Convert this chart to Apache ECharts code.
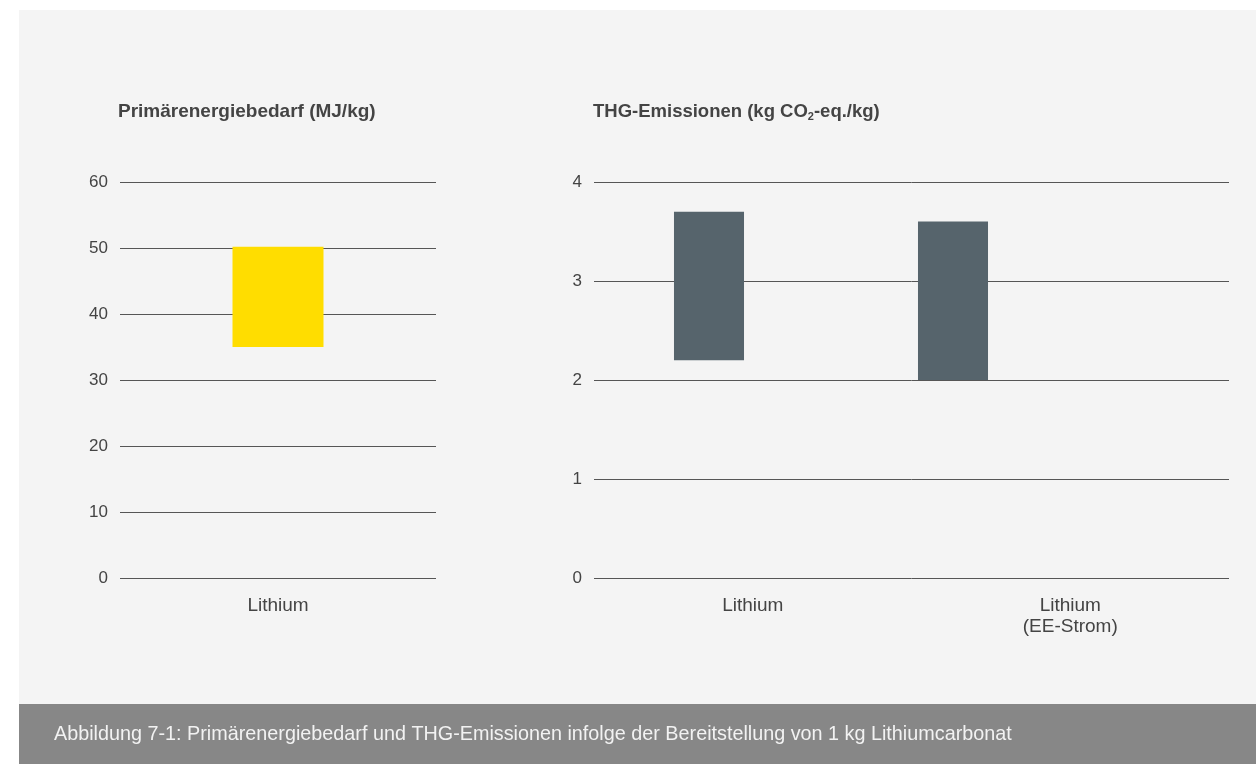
<!DOCTYPE html>
<html>
<head>
<meta charset="utf-8">
<script src="https://cdn.jsdelivr.net/npm/echarts@6/dist/echarts.min.js"></script>
<style>
html,body{margin:0;padding:0;background:#ffffff;}
#c{width:1256px;height:764px;}
</style>
</head>
<body>
<div id="c"></div>
<script>
// ---- data ----
const leftCategories = ['Lithium'];
const leftLow = [35];
const leftHigh = [50.2];
const leftTicks = [0, 10, 20, 30, 40, 50, 60];

const rightCategories = ['Lithium', 'Lithium\n(EE-Strom)'];
const rightLow = [2.2, 2.0];
const rightHigh = [3.7, 3.6];
const rightTicks = [0, 1, 2, 3, 4];

const leftTitle = 'Primärenergiebedarf (MJ/kg)';
const rightTitle = 'THG-Emissionen (kg CO{sub|2}-eq./kg)';
const caption = 'Abbildung 7-1: Primärenergiebedarf und THG-Emissionen infolge der Bereitstellung von 1 kg Lithiumcarbonat';

// ---- chart ----
const FONT = '"Liberation Sans", Arial, sans-serif';
const chart = echarts.init(document.getElementById('c'), null, {renderer: 'canvas'});

function diff(lo, hi) { return hi.map((h, i) => +(h - lo[i]).toFixed(3)); }

const yCommon = (ticks, show) => ({
  type: 'value',
  min: ticks[0],
  max: ticks[ticks.length - 1],
  interval: ticks[1] - ticks[0],
  show: show,
  axisLine: {show: false},
  axisTick: {show: false},
  axisLabel: {show: show, color: '#444', fontSize: 17, fontFamily: FONT, margin: 12},
  splitLine: {show: show, lineStyle: {color: '#555', width: 1}}
});

const xLabel = {color: '#444', fontSize: 19, fontFamily: FONT, margin: 17, lineHeight: 21, interval: 0};

const option = {
  animation: false,
  backgroundColor: '#ffffff',
  graphic: [
    {type: 'rect', z: -10, shape: {x: 19, y: 10, width: 1237, height: 694}, style: {fill: '#f4f4f4'}},
    {type: 'rect', z: -10, shape: {x: 19, y: 704, width: 1237, height: 60}, style: {fill: '#878787'}},
    {type: 'text', left: 54, top: 725, style: {text: caption, fill: '#f2f2f2', fontSize: 19.8, fontFamily: FONT}}
  ],
  title: [
    {text: leftTitle, left: 113, top: 97, textStyle: {color: '#444', fontSize: 19, fontWeight: 'bold', fontFamily: FONT}},
    {text: rightTitle, left: 588, top: 97, textStyle: {color: '#444', fontSize: 18.5, fontWeight: 'bold', fontFamily: FONT,
      rich: {sub: {fontSize: 11, fontWeight: 'bold', color: '#444', fontFamily: FONT, verticalAlign: 'bottom', padding: [9, 0, 0, 0]}}}}
  ],
  grid: [
    {left: 120, width: 316, top: 182, height: 396},
    {left: 594, width: 635, top: 182, height: 396},
    {left: 587, width: 488, top: 182, height: 396}
  ],
  xAxis: [
    {type: 'category', gridIndex: 0, data: leftCategories, axisLine: {show: false}, axisTick: {show: false}, axisLabel: xLabel},
    {type: 'category', gridIndex: 1, data: rightCategories, axisLine: {show: false}, axisTick: {show: false}, axisLabel: xLabel},
    {type: 'category', gridIndex: 2, data: rightCategories, show: false}
  ],
  yAxis: [
    Object.assign(yCommon(leftTicks, true), {gridIndex: 0}),
    Object.assign(yCommon(rightTicks, true), {gridIndex: 1}),
    Object.assign(yCommon(rightTicks, false), {gridIndex: 2})
  ],
  series: [
    {type: 'bar', xAxisIndex: 0, yAxisIndex: 0, stack: 'l', data: leftLow, barWidth: '28.8%', itemStyle: {color: 'rgba(0,0,0,0)'}, silent: true},
    {type: 'bar', xAxisIndex: 0, yAxisIndex: 0, stack: 'l', data: diff(leftLow, leftHigh), barWidth: '28.8%', itemStyle: {color: '#ffdd00'}},
    {type: 'bar', xAxisIndex: 2, yAxisIndex: 2, stack: 'r', data: rightLow, barWidth: '28.7%', itemStyle: {color: 'rgba(0,0,0,0)'}, silent: true},
    {type: 'bar', xAxisIndex: 2, yAxisIndex: 2, stack: 'r', data: diff(rightLow, rightHigh), barWidth: '28.7%', itemStyle: {color: '#56646c'}}
  ]
};
chart.setOption(option);
</script>
</body>
</html>
